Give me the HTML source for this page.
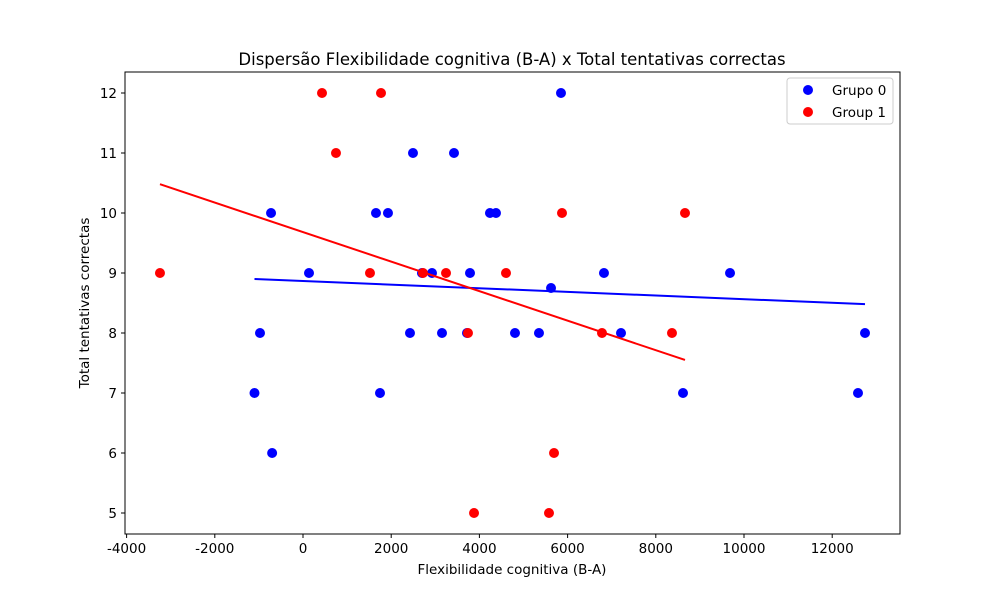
<!DOCTYPE html>
<html><head><meta charset="utf-8"><style>body{margin:0;background:#fff}svg{font-family:"DejaVu Sans","Liberation Sans",sans-serif}</style></head>
<body>
<svg id="c" width="1000" height="600" xmlns="http://www.w3.org/2000/svg"></svg>
<script>
const blueX=[-1100,-975,-725,-700,136,1655,1746,1927,2494,2426,2698,2925,3152,3424,3787,3719,4240,4376,4807,5351,5624,5850,6825,7211,8617,9683,12585,12744];
const blueY=[7,8,10,6,9,10,7,10,11,8,9,9,8,11,9,8,10,10,8,8,8.75,12,9,8,7,9,7,8];
const redX=[-3243,431,748,1769,1519,2721,3243,3741,3878,4603,5578,5692,5873,6780,8367,8662];
const redY=[9,12,11,12,9,9,9,8,5,9,5,6,10,8,8,10];
const blueFit=[-3.03e-5,8.867];
const redFit=[-2.461e-4,9.682];
const xTicks=[-4000,-2000,0,2000,4000,6000,8000,10000,12000];
const yTicks=[5,6,7,8,9,10,11,12];
const NS="http://www.w3.org/2000/svg",svg=document.getElementById('c');
const X=v=>303+v*0.0441, Y=v=>513-60*(v-5);
function mk(t,a,p){const e=document.createElementNS(NS,t);for(const k in a)e.setAttribute(k,a[k]);(p||svg).appendChild(e);return e;}
let r=mk('rect',{x:125,y:72,width:775,height:462,fill:'none',stroke:'#000','stroke-width':1});


xTicks.forEach(v=>{const g=mk('g',{});


mk('line',{x1:X(v),x2:X(v),y1:534,y2:538,stroke:'#000'},g);
const t=mk('text',{x:X(v),y:553,'text-anchor':'middle','font-size':13.5},g);t.textContent=v;});
yTicks.forEach(v=>{const g=mk('g',{});


mk('line',{x1:121,x2:125,y1:Y(v),y2:Y(v),stroke:'#000'},g);
const t=mk('text',{x:117,y:Y(v)+5,'text-anchor':'end','font-size':13.5},g);t.textContent=v;});
function pts(xs,ys,c,n){xs.forEach((x,i)=>{const e=mk('circle',{cx:X(x),cy:Y(ys[i]),r:5,fill:c});

});}
function fit(xs,f,c,n){const a=Math.min(...xs),b=Math.max(...xs);const e=mk('line',{x1:X(a),y1:Y(f[0]*a+f[1]),x2:X(b),y2:Y(f[0]*b+f[1]),stroke:c,'stroke-width':2});

}
pts(blueX,blueY,'#0000ff','point-grupo-0');
pts(redX,redY,'#ff0000','point-group-1');
fit(blueX,blueFit,'#0000ff','trend-grupo-0');
fit(redX,redFit,'#ff0000','trend-group-1');
let t=mk('text',{x:512,y:65,'text-anchor':'middle','font-size':16.5});t.textContent='Dispersão Flexibilidade cognitiva (B-A) x Total tentativas correctas';


t=mk('text',{x:512,y:574,'text-anchor':'middle','font-size':13.5});t.textContent='Flexibilidade cognitiva (B-A)';


t=mk('text',{x:89,y:303,'text-anchor':'middle','font-size':13.5,transform:'rotate(-90 89 303)'});t.textContent='Total tentativas correctas';


const lg=mk('g',{});


mk('rect',{x:787,y:78,width:106,height:46,rx:3,fill:'#fff',stroke:'#ccc'},lg);
[['Grupo 0','#0000ff',90],['Group 1','#ff0000',112]].forEach(([s,c,y])=>{const g=mk('g',{},lg);


mk('circle',{cx:808,cy:y,r:5,fill:c},g);
const tt=mk('text',{x:832,y:y+5,'font-size':13.5},g);tt.textContent=s;});
</script>
</body></html>
